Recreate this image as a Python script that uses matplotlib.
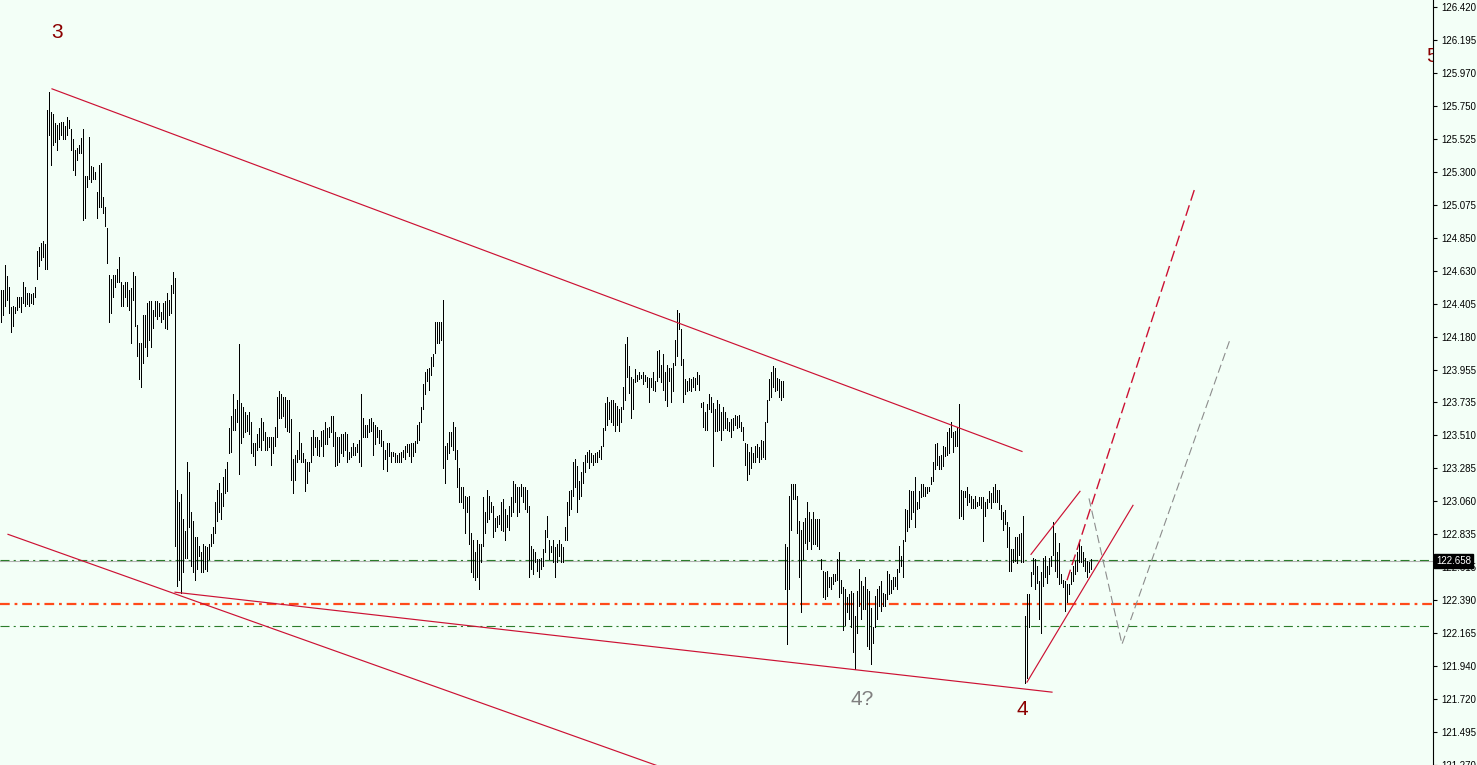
import matplotlib

matplotlib.use("Agg")
import matplotlib.pyplot as plt
from matplotlib.transforms import blended_transform_factory

# bar highs / lows, one bar every 2 px from the left edge
bar_high = [
    124.50, 124.50, 124.67, 124.59, 124.52, 124.38, 124.39, 124.38, 124.45, 124.45,
    124.45, 124.55, 124.52, 124.48, 124.48, 124.47, 124.48, 124.52, 124.76, 124.79,
    124.82, 124.83, 124.81, 125.72, 125.84, 125.71, 125.69, 125.63, 125.62, 125.63,
    125.64, 125.64, 125.61, 125.67, 125.65, 125.59, 125.52, 125.45, 125.46, 125.48,
    125.53, 125.59, 125.27, 125.27, 125.54, 125.34, 125.33, 125.30, 125.16, 125.35,
    125.36, 125.13, 125.06, 124.92, 124.60, 124.57, 124.60, 124.60, 124.64, 124.72,
    124.55, 124.53, 124.55, 124.55, 124.50, 124.51, 124.62, 124.59, 124.26, 124.14,
    124.14, 124.33, 124.33, 124.41, 124.42, 124.42, 124.36, 124.42, 124.42, 124.41,
    124.35, 124.41, 124.42, 124.48, 124.43, 124.53, 124.62, 124.58,
    123.14, 123.06, 123.11, 122.94, 122.86, 123.33, 123.26, 122.99, 122.93, 122.82,
    122.82, 122.76, 122.72, 122.77, 122.76, 122.75, 122.77, 122.84, 122.89, 123.06,
    123.14, 123.19, 123.12, 123.23, 123.28, 123.33, 123.56, 123.64, 123.79, 123.69,
    123.75, 124.13, 123.73, 123.70, 123.67, 123.65, 123.67, 123.60, 123.46, 123.46,
    123.52, 123.56, 123.63, 123.60, 123.53, 123.50, 123.50, 123.50, 123.50, 123.57,
    123.77, 123.81, 123.79, 123.77, 123.77, 123.75, 123.75, 123.62, 123.35, 123.38,
    123.41, 123.53, 123.46, 123.39, 123.35, 123.33, 123.33, 123.50, 123.55, 123.50,
    123.50, 123.48, 123.54, 123.55, 123.60, 123.56, 123.57, 123.64, 123.64, 123.53,
    123.50, 123.50, 123.52, 123.52, 123.53, 123.52, 123.40, 123.43, 123.46, 123.43,
    123.45, 123.48, 123.79, 123.63, 123.58, 123.58, 123.62, 123.63, 123.60, 123.58,
    123.57, 123.55, 123.55, 123.47, 123.41, 123.46, 123.46, 123.40, 123.40, 123.39,
    123.38, 123.39, 123.40, 123.41, 123.44, 123.45, 123.45, 123.46, 123.46, 123.47,
    123.58, 123.60, 123.70, 123.86, 123.94, 123.96, 123.97, 124.04, 124.06, 124.28,
    124.28, 124.28, 124.28, 124.43, 123.44, 123.46, 123.53, 123.53, 123.60, 123.57,
    123.41, 123.29, 123.16, 123.16, 123.10, 123.09, 123.10, 122.85, 122.80, 122.72,
    122.80, 122.77, 122.77, 123.09, 122.99, 123.14, 123.10, 123.06, 123.03, 122.95,
    122.96, 122.97, 123.06, 123.08, 123.01, 122.97, 123.03, 123.09, 123.20, 123.18,
    123.16, 123.16, 123.18, 123.16, 123.16, 123.14, 123.03, 122.76, 122.74, 122.72,
    122.67, 122.67, 122.68, 122.74, 122.87, 122.96, 122.80, 122.76, 122.80, 122.75,
    122.77, 122.80, 122.77, 122.75, 122.89, 123.06, 123.13, 123.14, 123.33, 123.35,
    123.30, 123.20, 123.26, 123.33, 123.38, 123.40, 123.41, 123.39, 123.38, 123.39,
    123.40, 123.41, 123.44, 123.56, 123.73, 123.77, 123.74, 123.75, 123.75, 123.73,
    123.71, 123.69, 123.70, 123.84, 124.13, 124.18, 123.98, 123.91, 123.89, 123.96,
    123.92, 123.94, 123.92, 123.94, 123.92, 123.91, 123.90, 123.90, 123.94, 123.88,
    124.08, 124.09, 123.99, 124.06, 123.94, 123.99, 123.97, 123.97, 124.00, 124.16,
    124.36, 124.34, 124.23, 124.03, 123.89, 123.88, 123.90, 123.89, 123.91, 123.90,
    123.94, 123.92, 123.73, 123.74, 123.67, 123.72, 123.79, 123.77, 123.73, 123.69,
    123.75, 123.72, 123.67, 123.70, 123.67, 123.63, 123.60, 123.62, 123.63, 123.65,
    123.64, 123.65, 123.60, 123.57, 123.46, 123.45, 123.40, 123.43, 123.39, 123.44,
    123.45, 123.43, 123.48, 123.47, 123.60, 123.75, 123.89, 123.94, 123.98, 123.97,
    123.90, 123.89, 123.88, 123.88, 122.77, 122.75, 123.10, 123.18, 123.18, 123.18,
    123.10, 122.93, 122.87, 122.92, 122.95, 123.06, 122.99, 122.94, 122.99, 122.94,
    122.94, 122.94, 122.67, 122.59, 122.58, 122.59, 122.55, 122.55, 122.57, 122.57,
    122.67, 122.72, 122.53, 122.48, 122.47, 122.41, 122.43, 122.45, 122.44, 122.28,
    122.45, 122.60, 122.52, 122.49, 122.55, 122.47, 122.45, 122.34, 122.21, 122.42,
    122.47, 122.49, 122.52, 122.44, 122.43, 122.59, 122.57, 122.53, 122.55, 122.55,
    122.60, 122.76, 122.69, 122.80, 123.01, 123.00, 123.14, 123.13, 123.13, 123.23,
    123.06, 123.13, 123.18, 123.18, 123.16, 123.16, 123.16, 123.23, 123.33, 123.45,
    123.46, 123.37, 123.38, 123.44, 123.43, 123.53, 123.56, 123.60, 123.53, 123.54,
    123.57, 123.72, 123.14, 123.13, 123.13, 123.16, 123.11, 123.10, 123.08, 123.10,
    123.06, 123.09, 123.09, 123.09, 123.06, 123.08, 123.13, 123.12, 123.16, 123.18,
    123.14, 123.14, 123.04, 122.99, 123.00, 122.92, 122.89, 122.74, 122.74, 122.82,
    122.82, 122.84, 122.85, 122.96, 122.28, 122.43, 122.43, 122.58, 122.68, 122.67,
    122.62, 122.52, 122.58, 122.68, 122.69, 122.62, 122.68, 122.69, 122.92, 122.85,
    122.72, 122.78, 122.57, 122.53, 122.52, 122.50, 122.50, 122.58, 122.62, 122.66,
    122.72, 122.79, 122.76, 122.72, 122.68, 122.66, 122.65, 122.67,
]
bar_low = [
    124.28, 124.33, 124.39, 124.43, 124.34, 124.21, 124.25, 124.34, 124.36, 124.38,
    124.35, 124.41, 124.39, 124.40, 124.39, 124.41, 124.40, 124.45, 124.57, 124.66,
    124.70, 124.72, 124.64, 124.64, 125.55, 125.35, 125.48, 125.50, 125.45, 125.52,
    125.55, 125.52, 125.52, 125.55, 125.60, 125.45, 125.31, 125.28, 125.38, 125.43,
    125.43, 124.97, 124.99, 125.20, 125.25, 125.23, 125.25, 125.25, 124.99, 125.06,
    125.06, 125.02, 124.93, 124.68, 124.28, 124.34, 124.45, 124.52, 124.55, 124.55,
    124.39, 124.39, 124.45, 124.39, 124.36, 124.14, 124.43, 124.25, 124.05, 123.89,
    123.84, 124.00, 124.11, 124.05, 124.16, 124.11, 124.24, 124.32, 124.30, 124.32,
    124.28, 124.30, 124.24, 124.23, 124.33, 124.34, 124.48, 122.76,
    122.49, 122.53, 122.44, 122.58, 122.68, 122.68, 122.89, 122.62, 122.58, 122.53,
    122.60, 122.69, 122.58, 122.58, 122.60, 122.59, 122.67, 122.76, 122.78, 122.85,
    122.93, 122.99, 122.94, 123.03, 123.12, 123.13, 123.39, 123.40, 123.55, 123.55,
    123.60, 123.25, 123.46, 123.50, 123.53, 123.54, 123.52, 123.39, 123.37, 123.31,
    123.41, 123.43, 123.41, 123.48, 123.41, 123.41, 123.43, 123.31, 123.39, 123.44,
    123.50, 123.63, 123.63, 123.64, 123.57, 123.54, 123.53, 123.21, 123.12, 123.21,
    123.33, 123.35, 123.33, 123.33, 123.13, 123.19, 123.27, 123.33, 123.38, 123.43,
    123.38, 123.37, 123.44, 123.37, 123.45, 123.45, 123.50, 123.53, 123.44, 123.30,
    123.31, 123.33, 123.39, 123.37, 123.41, 123.33, 123.35, 123.36, 123.38, 123.38,
    123.40, 123.33, 123.30, 123.50, 123.50, 123.50, 123.53, 123.54, 123.38, 123.45,
    123.50, 123.46, 123.44, 123.28, 123.35, 123.27, 123.37, 123.33, 123.37, 123.33,
    123.33, 123.33, 123.33, 123.36, 123.35, 123.40, 123.37, 123.33, 123.37, 123.40,
    123.46, 123.48, 123.60, 123.69, 123.79, 123.88, 123.82, 123.92, 123.98, 124.07,
    124.14, 124.14, 124.16, 123.29, 123.19, 123.35, 123.39, 123.44, 123.41, 123.35,
    123.16, 123.06, 123.06, 123.02, 122.85, 122.99, 122.77, 122.58, 122.55, 122.53,
    122.55, 122.47, 122.65, 122.76, 122.85, 122.92, 122.94, 122.99, 122.82, 122.86,
    122.89, 122.91, 122.87, 122.86, 122.80, 122.89, 122.87, 122.96, 122.99, 123.06,
    122.96, 122.99, 123.10, 123.06, 123.01, 122.99, 122.55, 122.60, 122.57, 122.65,
    122.59, 122.55, 122.60, 122.62, 122.72, 122.82, 122.67, 122.72, 122.65, 122.55,
    122.65, 122.69, 122.65, 122.65, 122.80, 122.80, 122.97, 123.01, 123.10, 123.16,
    122.99, 123.08, 123.10, 123.19, 123.26, 123.33, 123.29, 123.33, 123.31, 123.33,
    123.33, 123.36, 123.35, 123.44, 123.55, 123.58, 123.62, 123.60, 123.58, 123.54,
    123.58, 123.54, 123.60, 123.69, 123.75, 123.91, 123.80, 123.63, 123.69, 123.87,
    123.88, 123.89, 123.90, 123.86, 123.88, 123.84, 123.74, 123.84, 123.82, 123.81,
    123.88, 123.91, 123.87, 123.82, 123.75, 123.71, 123.88, 123.74, 123.81, 123.99,
    124.05, 124.23, 123.99, 123.74, 123.79, 123.81, 123.82, 123.81, 123.84, 123.82,
    123.86, 123.82, 123.70, 123.57, 123.55, 123.55, 123.69, 123.67, 123.30, 123.54,
    123.54, 123.55, 123.48, 123.55, 123.56, 123.55, 123.54, 123.50, 123.55, 123.58,
    123.56, 123.57, 123.54, 123.48, 123.31, 123.21, 123.25, 123.29, 123.33, 123.33,
    123.36, 123.33, 123.35, 123.36, 123.35, 123.60, 123.75, 123.77, 123.84, 123.81,
    123.82, 123.77, 123.75, 123.77, 122.47, 122.09, 122.47, 122.87, 123.08, 123.08,
    122.85, 122.55, 122.31, 122.67, 122.78, 122.74, 122.79, 122.74, 122.77, 122.77,
    122.76, 122.74, 122.60, 122.41, 122.40, 122.42, 122.48, 122.47, 122.50, 122.52,
    122.53, 122.41, 122.44, 122.19, 122.22, 122.31, 122.26, 122.21, 122.04, 121.92,
    122.17, 122.35, 122.26, 122.33, 122.33, 122.08, 122.06, 121.96, 122.10, 122.21,
    122.26, 122.35, 122.32, 122.35, 122.35, 122.40, 122.43, 122.44, 122.47, 122.49,
    122.47, 122.58, 122.62, 122.55, 122.79, 122.86, 122.89, 122.94, 122.99, 122.89,
    123.01, 123.02, 123.09, 123.10, 123.10, 123.12, 123.13, 123.18, 123.20, 123.28,
    123.31, 123.28, 123.28, 123.30, 123.37, 123.38, 123.39, 123.50, 123.40, 123.44,
    123.44, 122.95, 122.96, 122.94, 123.09, 123.04, 123.06, 123.02, 123.02, 123.02,
    123.03, 123.04, 123.02, 122.79, 122.96, 123.02, 123.06, 123.02, 123.06, 123.06,
    123.06, 123.01, 122.94, 122.87, 122.91, 122.75, 122.59, 122.59, 122.65, 122.66,
    122.64, 122.70, 122.65, 122.65, 121.83, 121.86, 122.21, 122.49, 122.57, 122.47,
    122.51, 122.26, 122.17, 122.49, 122.55, 122.51, 122.57, 122.62, 122.70, 122.59,
    122.55, 122.50, 122.51, 122.48, 122.32, 122.38, 122.43, 122.50, 122.52, 122.57,
    122.59, 122.65, 122.65, 122.62, 122.59, 122.55, 122.58, 122.60,
]

price_labels = [
    "126.420", "126.195", "125.970", "125.750", "125.525", "125.300",
    "125.075", "124.850", "124.630", "124.405", "124.180", "123.955",
    "123.735", "123.510", "123.285", "123.060", "122.835", "122.615",
    "122.390", "122.165", "121.940", "121.720", "121.495", "121.270",
]
price_top = 126.420
price_step = 4.925 / 22

bid_price = 122.658
green_levels = [122.666, 122.214]
orange_level = 122.365

# trend lines as (bar index, price) end points
trend_upper = [(25.5, 125.864), (510.5, 123.401)]
trend_lower = [(87.0, 122.445), (525.5, 121.766)]
trend_outer = [(3.5, 122.838), (349.5, 121.163)]
channel_top = [(515.0, 122.702), (539.5, 123.130)]
channel_bottom = [(513.0, 121.834), (566.0, 123.035)]
target_red = [(533.0, 122.526), (597.0, 125.192)]
target_grey = [(544.0, 123.082), (560.5, 122.092), (614.5, 124.161)]

wave_labels = [
    ("3", 28.0, 126.244, "#8b0000"),
    ("4?", 430.5, 121.719, "#808080"),
    ("4", 510.5, 121.651, "#8b0000"),
]

BG = "#f3fff7"
RED = "#cc1133"

plt.rcParams["lines.scale_dashes"] = False
plt.rcParams["font.family"] = ["Liberation Sans", "DejaVu Sans"]

fig = plt.figure(figsize=(14.77, 7.65), dpi=100, facecolor=BG)
ax = fig.add_axes([0, 0, 1433 / 1477, 1])
ax.set_facecolor(BG)
ax.set_xlim(-0.5, 716)
ax.set_ylim(121.2775, 126.4675)

idx = list(range(len(bar_high)))
ax.vlines(idx, bar_low, bar_high, colors="black", linewidth=0.5, antialiased=False,
          snap=True, zorder=3)

# horizontal levels
ax.axhline(bid_price, color="#b4b4b4", linewidth=0.8, zorder=2)
for lvl in green_levels:
    ax.axhline(lvl, color="#2b7d2b", linewidth=0.8, dashes=(6.5, 3, 1.5, 3), zorder=2)
ax.axhline(orange_level, color="#ff4a1a", linewidth=1.6, dashes=(7, 3.5, 2, 3.5), zorder=2)

for pts in (trend_upper, trend_lower, trend_outer, channel_top, channel_bottom):
    xs, ys = zip(*pts)
    ax.plot(xs, ys, color=RED, linewidth=0.85, zorder=4)

xs, ys = zip(*target_red)
ax.plot(xs, ys, color=RED, linewidth=1.0, dashes=(8, 3.5), zorder=4)
xs, ys = zip(*target_grey)
ax.plot(xs, ys, color="#8c8c8c", linewidth=0.8, dashes=(6, 3), zorder=4)

for txt, x, y, col in wave_labels:
    ax.text(x, y, txt, color=col, fontsize=15, ha="center", va="center", zorder=5)
ax.text(712.5, 126.081, "5", color="#8b0000", fontsize=15, ha="left", va="center",
        clip_on=True, zorder=5)

# right price scale
ticks = [price_top - i * price_step for i in range(len(price_labels))]
ax.yaxis.tick_right()
ax.set_yticks(ticks)
ax.set_yticklabels(price_labels)
ax.tick_params(axis="y", direction="out", length=3, width=0.8, pad=3, labelsize=7,
               colors="black")
ax.set_xticks([])
for side in ("top", "left", "bottom"):
    ax.spines[side].set_visible(False)
ax.spines["right"].set_linewidth(0.8)
ax.spines["right"].set_color("black")

trans = blended_transform_factory(ax.transAxes, ax.transData)
ax.text(1.0021, bid_price, f"{bid_price:.3f}", transform=trans, color="white", fontsize=7,
        ha="left", va="center", clip_on=False, zorder=10,
        bbox=dict(boxstyle="square,pad=0.18", facecolor="black", edgecolor="black"))

fig.savefig("out.png", dpi=100, facecolor=BG)
